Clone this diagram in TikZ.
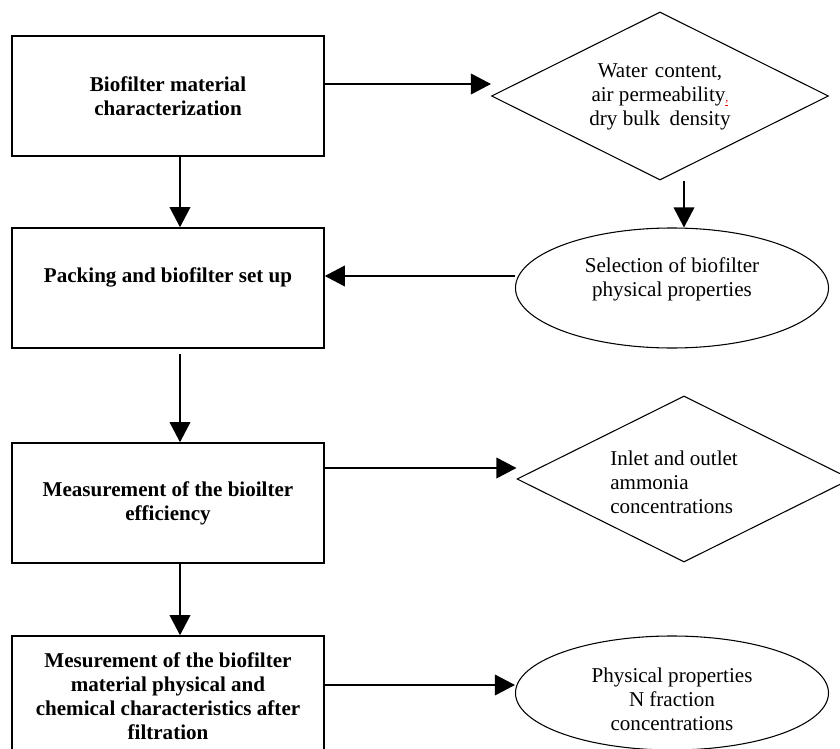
\documentclass[tikz,border=0pt]{standalone}
\usepackage{fontspec}
\setmainfont{Liberation Serif}
\usetikzlibrary{shapes.geometric,arrows.meta,calc}
\begin{document}
\begin{tikzpicture}[x=0.75pt,y=-0.75pt]
\tikzset{
  lbl/.style={font=\fontsize{15.8}{18}\selectfont, align=center, inner sep=0pt},
  bl/.style={lbl, font=\fontsize{15.8}{18}\selectfont\bfseries},
  box/.style={draw, line width=1.2pt, minimum width=234pt, minimum height=90pt, inner sep=0pt},
  dia/.style={draw, diamond, line width=0.8pt, inner sep=0pt},
  ell/.style={draw, ellipse, line width=0.8pt, inner sep=0pt},
  arr/.style={line width=1pt, -{Triangle[length=15pt,width=15.5pt]}}
}
\useasboundingbox (0,0) rectangle (840,749);
\clip (0,0) rectangle (840,749);
\fill[white] (0,0) rectangle (840,749);

% left column
\node[box, bl] (b1) at (168,96) {Biofilter material\\characterization};
\node[box] (b2) at (168,288) {};
\node[bl] (t2) at (168,277) {Packing and biofilter set up};
\node[box, bl] (b3) at (168,503) {Measurement of the bioilter\\efficiency};
\node[box, bl] (b4) at (168,696) {Mesurement of the biofilter\\material physical and\\chemical characteristics after\\filtration};

% right column
\node[dia, minimum width=252.75pt, minimum height=126pt] (d1) at (660,96) {};
\node[lbl] (t0) at (660,97)
  {Water\hspace{0.35em}content,\\air permeability\textcolor{red}{\underline{\small ,}}\\dry bulk\hspace{0.45em}density};
\node[ell, minimum width=234.75pt, minimum height=90pt] (e1) at (672,288) {};
\node[lbl] (t1) at (672,279) {Selection of biofilter\\physical properties};
\node[dia, minimum width=250.5pt, minimum height=124.5pt] (d2) at (684,479) {};
\node[lbl, align=left, anchor=west] (t3) at (610,482) {Inlet and outlet\\ammonia\\concentrations};
\node[ell, minimum width=234.75pt, minimum height=85.5pt] (e2) at (672,693) {};
\node[lbl] (t4) at (672,699) {Physical properties\\N fraction\\concentrations};

% connectors
\draw[arr] (b1.east |- 0,84) -- (d1.west |- 0,84);
\draw[arr] (b1.south -| 180,0) -- (b2.north -| 180,0);
\draw[arr] (d1.south -| 684,0) -- (e1.north -| 684,0);
\draw[arr] (e1.west |- 0,276) -- (b2.east |- 0,276);
\draw[arr] ($(b2.south -| 180,0)+(0,5)$) -- (b3.north -| 180,0);
\draw[arr] (b3.east |- 0,468) -- (d2.west |- 0,468);
\draw[arr] (b3.south -| 180,0) -- (b4.north -| 180,0);
\draw[arr] (b4.east |- 0,685) -- (e2.west |- 0,685);
\end{tikzpicture}
\end{document}
